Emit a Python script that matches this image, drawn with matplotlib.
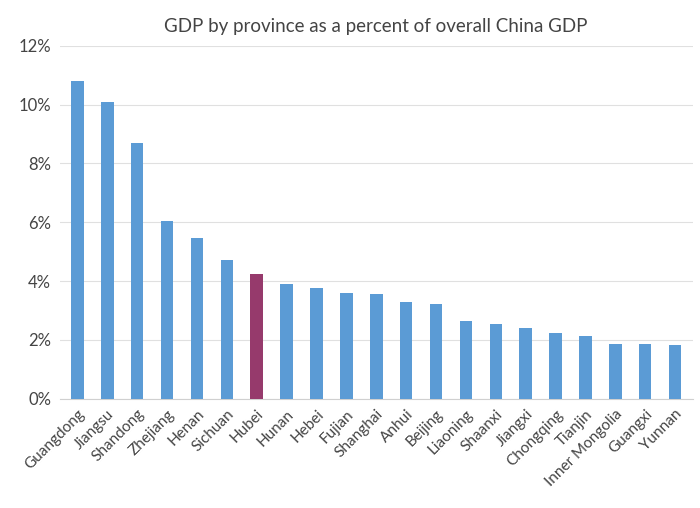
import numpy as np
import matplotlib.pyplot as plt

plt.rcParams['font.family'] = ['Lato', 'DejaVu Sans']

provinces = ["Guangdong", "Jiangsu", "Shandong", "Zhejiang", "Henan", "Sichuan", "Hubei",
             "Hunan", "Hebei", "Fujian", "Shanghai", "Anhui", "Beijing", "Liaoning",
             "Shaanxi", "Jiangxi", "Chongqing", "Tianjin", "Inner Mongolia", "Guangxi", "Yunnan"]
gdp_share = [10.8, 10.1, 8.7, 6.05, 5.45, 4.72, 4.25, 3.9, 3.75, 3.58, 3.55, 3.3, 3.22,
             2.65, 2.55, 2.4, 2.25, 2.13, 1.85, 1.85, 1.82]
highlight = "Hubei"

fig, ax = plt.subplots(figsize=(7, 5.08), dpi=100)
colors = ["#963a6c" if p == highlight else "#5b9bd5" for p in provinces]
x = np.arange(len(provinces))
ax.bar(x, gdp_share, width=0.42, color=colors, zorder=3)

ax.set_ylim(0, 12)
ax.set_yticks(range(0, 13, 2))
ax.set_yticklabels([f"{v}%" for v in range(0, 13, 2)], fontsize=12, color="#444444")
ax.set_xticks(x)
ax.set_xticklabels(provinces, rotation=45, ha="right", rotation_mode="anchor",
                   fontsize=11, color="#444444")
ax.set_xlim(-0.6, len(provinces) - 0.4)
ax.grid(axis="y", color="#e0e0e0", linewidth=0.8, zorder=0)
for s in ["top", "right", "left"]:
    ax.spines[s].set_visible(False)
ax.spines["bottom"].set_color("#d0d0d0")
ax.tick_params(length=0, pad=6)
ax.set_title("GDP by province as a percent of overall China GDP", fontsize=13.5,
             color="#444444", pad=10)

fig.subplots_adjust(left=0.085, right=0.99, top=0.91, bottom=0.215)
fig.savefig("out.png", dpi=100)
